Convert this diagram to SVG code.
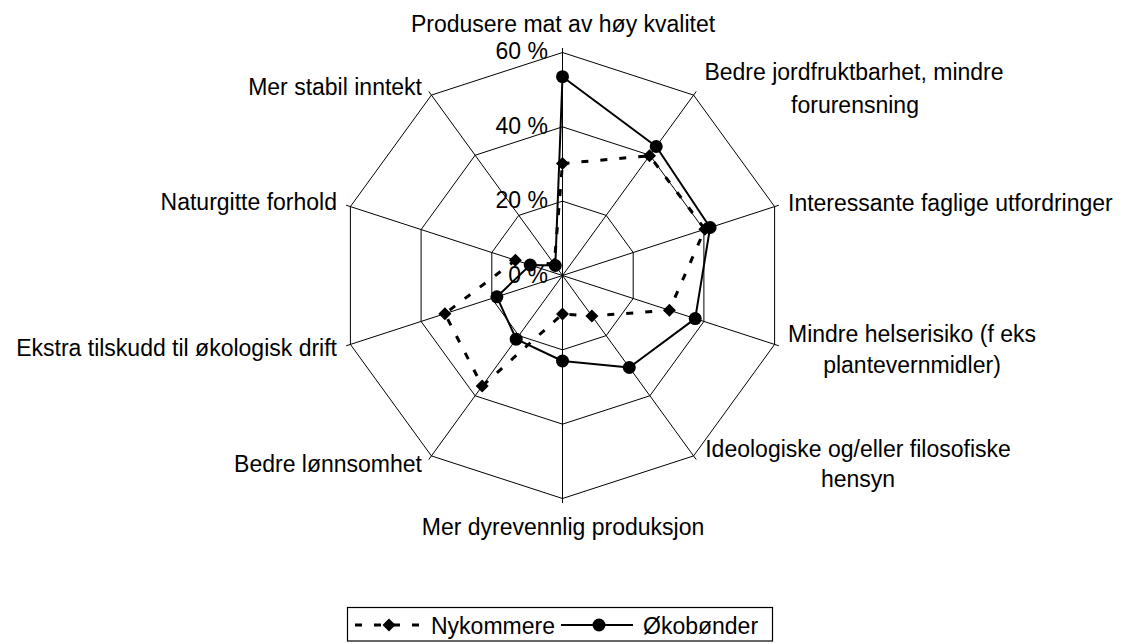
<svg xmlns="http://www.w3.org/2000/svg" width="1132" height="644" viewBox="0 0 1132 644">
  <style>
    .grid { fill: none; stroke: #000; stroke-width: 1; }
    .lbl { font-family: "Liberation Sans", Arial, sans-serif; font-size: 23px; fill: #000; }
    .mid { text-anchor: middle; }
    .end { text-anchor: end; }
    .nyk { fill: none; stroke: #000; stroke-width: 3; stroke-dasharray: 7 12; }
    .oko { fill: none; stroke: #000; stroke-width: 2; stroke-linejoin: round; }
  </style>
  <defs>
    <path id="dia" d="M0,-6.5 L6.5,0 L0,6.5 L-6.5,0 Z" fill="#000"/>
    <circle id="dot" r="6.5" fill="#000"/>
  </defs>
  <rect width="1132" height="644" fill="#fff"/>

  <g id="grid">
    <polygon class="grid" points="562.5,201.17 606.19,215.36 633.2,252.53 633.2,298.47 606.19,335.64 562.5,349.83 518.81,335.64 491.8,298.47 491.8,252.53 518.81,215.36"/>
    <polygon class="grid" points="562.5,126.83 649.89,155.23 703.9,229.56 703.9,321.44 649.89,395.77 562.5,424.17 475.11,395.77 421.1,321.44 421.1,229.56 475.11,155.23"/>
    <polygon class="grid" points="562.5,52.5 693.58,95.09 774.6,206.59 774.6,344.41 693.58,455.91 562.5,498.5 431.42,455.91 350.4,344.41 350.4,206.59 431.42,95.09"/>
    <g class="grid">
      <line x1="562.5" y1="275.5" x2="562.5" y2="48"/>
      <line x1="562.5" y1="275.5" x2="696.22" y2="91.45"/>
      <line x1="562.5" y1="275.5" x2="778.88" y2="205.2"/>
      <line x1="562.5" y1="275.5" x2="778.88" y2="345.8"/>
      <line x1="562.5" y1="275.5" x2="696.22" y2="459.55"/>
      <line x1="562.5" y1="275.5" x2="562.5" y2="503"/>
      <line x1="562.5" y1="275.5" x2="428.78" y2="459.55"/>
      <line x1="562.5" y1="275.5" x2="346.12" y2="345.8"/>
      <line x1="562.5" y1="275.5" x2="346.12" y2="205.2"/>
      <line x1="562.5" y1="275.5" x2="428.78" y2="91.45"/>
    </g>
  </g>

  <g id="axis-values" class="lbl end">
    <text x="548" y="59">60 %</text>
    <text x="548" y="134">40 %</text>
    <text x="548" y="208">20 %</text>
    <text x="548" y="283">0 %</text>
  </g>

  <g id="cat-0"><text class="lbl mid" x="563" y="32">Produsere mat av høy kvalitet</text></g>
  <g id="cat-1"><text class="lbl mid" x="854" y="80">Bedre jordfruktbarhet, mindre</text><text class="lbl mid" x="855" y="113">forurensning</text></g>
  <g id="cat-2"><text class="lbl" x="788" y="211">Interessante faglige utfordringer</text></g>
  <g id="cat-3"><text class="lbl mid" x="912" y="342">Mindre helserisiko (f eks</text><text class="lbl mid" x="912" y="373">plantevernmidler)</text></g>
  <g id="cat-4"><text class="lbl mid" x="858" y="457">Ideologiske og/eller filosofiske</text><text class="lbl mid" x="858" y="487">hensyn</text></g>
  <g id="cat-5"><text class="lbl mid" x="563" y="535">Mer dyrevennlig produksjon</text></g>
  <g id="cat-6"><text class="lbl end" x="422" y="472">Bedre lønnsomhet</text></g>
  <g id="cat-7"><text class="lbl end" x="337" y="356">Ekstra tilskudd til økologisk drift</text></g>
  <g id="cat-8"><text class="lbl end" x="337" y="210">Naturgitte forhold</text></g>
  <g id="cat-9"><text class="lbl end" x="422" y="95">Mer stabil inntekt</text></g>

  <g id="connectors">
    <polygon class="nyk" points="562.5,163.5 649.5,155.8 704.9,229.2 669.4,310.2 591.9,316 562.5,314 482.2,386 444.9,313.7 515.4,260.2 554.3,264.2"/>
    <polygon class="oko" points="562.5,76.7 656.2,146.5 710.1,227.5 695.2,318.6 629.3,367.5 562.5,361 516.2,339.2 496.9,296.8 530.2,265 555.3,265.5"/>
  </g>

  <g id="series-nykommere">
    <use href="#dia" x="562.5" y="163.5"/>
    <use href="#dia" x="649.5" y="155.8"/>
    <use href="#dia" x="704.9" y="229.2"/>
    <use href="#dia" x="669.4" y="310.2"/>
    <use href="#dia" x="591.9" y="316"/>
    <use href="#dia" x="562.5" y="314"/>
    <use href="#dia" x="482.2" y="386"/>
    <use href="#dia" x="444.9" y="313.7"/>
    <use href="#dia" x="515.4" y="260.2"/>
    <use href="#dia" x="554.3" y="264.2"/>
  </g>
  <g id="series-okobonder">
    <use href="#dot" x="562.5" y="76.7"/>
    <use href="#dot" x="656.2" y="146.5"/>
    <use href="#dot" x="710.1" y="227.5"/>
    <use href="#dot" x="695.2" y="318.6"/>
    <use href="#dot" x="629.3" y="367.5"/>
    <use href="#dot" x="562.5" y="361"/>
    <use href="#dot" x="516.2" y="339.2"/>
    <use href="#dot" x="496.9" y="296.8"/>
    <use href="#dot" x="530.2" y="265"/>
    <use href="#dot" x="555.3" y="265.5"/>
  </g>

  <g id="legend">
    <rect x="347.5" y="607.5" width="425" height="33.5" fill="#fff" stroke="#000" stroke-width="1.2"/>
    <line class="nyk" x1="355" y1="625" x2="420" y2="625" stroke-dashoffset="0"/>
    <use href="#dia" x="389" y="625"/>
    <text class="lbl" x="431" y="634">Nykommere</text>
    <line class="oko" x1="561" y1="625" x2="633" y2="625"/>
    <use href="#dot" x="599" y="625"/>
    <text class="lbl" x="643" y="634">Økobønder</text>
  </g>
</svg>
